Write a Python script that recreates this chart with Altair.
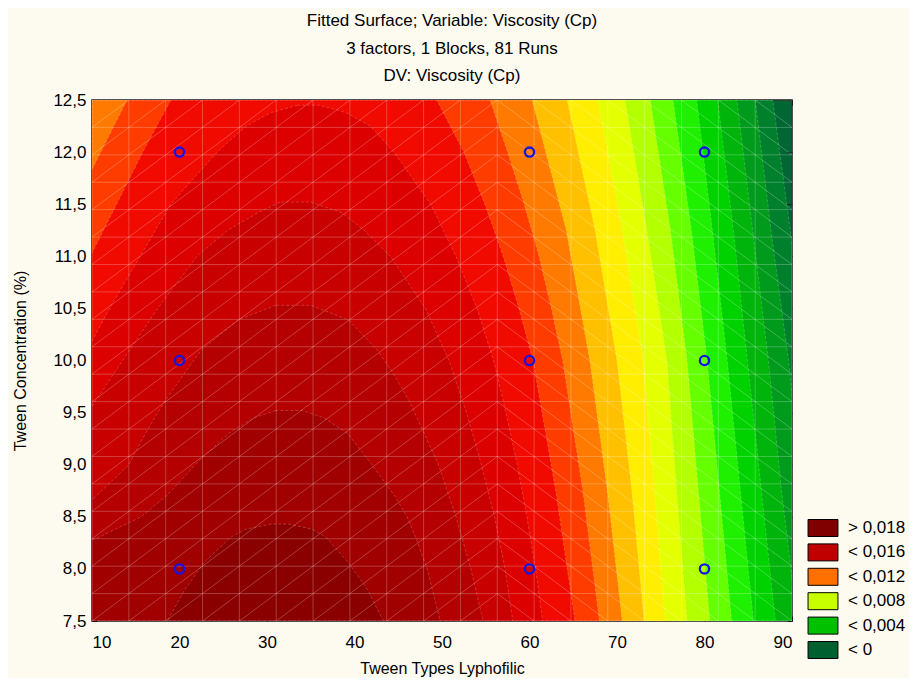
import altair as alt
import pandas as pd

# ---------------- data ----------------
X_MIN, X_MAX = 10, 90
Y_MIN, Y_MAX = 7.5, 12.5
X_TICKS = [10, 20, 30, 40, 50, 60, 70, 80, 90]
Y_TICKS = [7.5, 8.0, 8.5, 9.0, 9.5, 10.0, 10.5, 11.0, 11.5, 12.0, 12.5]

# experimental runs (design points)
RUN_X = [20, 20, 20, 60, 60, 60, 80, 80, 80]
RUN_Y = [8, 10, 12, 8, 10, 12, 8, 10, 12]

# contour levels of the fitted surface (Viscosity, Cp)
ARCH_LEVELS = [0.018, 0.017, 0.016, 0.015, 0.014, 0.013, 0.012]
ARCH_Y = [
    [7.5, 7.8, 8.06, 8.3, 8.38, 8.43],
    [7.5, 8.0, 8.3, 8.5, 8.7, 9.0, 9.3, 9.45, 9.52],
    [7.5, 8.0, 8.5, 9.0, 9.33, 9.62, 9.88, 10.1, 10.39, 10.53],
    [7.5, 8.0, 8.5, 9.0, 9.5, 10.0, 10.5, 11.0, 11.25, 11.42, 11.52],
    [7.5, 8.0, 8.5, 9.0, 9.5, 10.0, 10.5, 11.0, 11.5, 12.0, 12.25, 12.38, 12.45],
    [7.5, 8.75, 10.0, 10.5, 11.0, 11.5, 12.0, 12.5],
    [7.5, 8.75, 10.0, 10.5, 11.0, 11.5, 12.0, 12.5],
]
ARCH_XL = [
    [18.6, 20.6, 22.8, 25.8, 27.5, 30.5],
    [-5.0, 0.0, 10.7, 15.6, 18.5, 21.8, 25.6, 28.5, 31.0],
    [-8.0, -2.0, 8.0, 14.2, 16.3, 18.4, 20.6, 22.5, 26.7, 31.0],
    [-10.0, -6.0, -1.0, 4.5, 9.5, 13.5, 17.5, 22.0, 25.5, 29.0, 31.5],
    [-8.0, -5.0, -2.0, 1.5, 5.0, 8.8, 12.0, 15.5, 19.0, 24.3, 27.6, 30.5, 33.5],
    [-12.0, -6.0, 3.0, 6.5, 9.8, 12.8, 15.8, 19.0],
    [-20.0, -12.0, -2.5, 1.0, 4.5, 8.0, 11.0, 14.0],
]
ARCH_XR = [
    [43.3, 41.5, 39.3, 36.8, 35.2, 32.5],
    [49.8, 48.3, 47.0, 46.0, 44.6, 42.0, 39.2, 36.5, 34.0],
    [54.7, 53.3, 51.6, 49.6, 47.8, 46.2, 44.4, 42.6, 39.3, 35.0],
    [58.1, 57.2, 56.0, 54.5, 52.8, 50.8, 48.1, 44.1, 41.1, 38.5, 35.0],
    [61.5, 60.7, 59.7, 58.6, 57.3, 55.9, 54.0, 51.6, 48.7, 44.5, 41.8, 39.0, 36.0],
    [65.2, 63.0, 60.4, 58.8, 57.0, 54.9, 52.5, 49.4],
    [68.0, 66.1, 63.8, 62.5, 61.1, 59.4, 57.5, 55.5],
]

OPEN_LEVELS = [0.011, 0.010, 0.009, 0.008, 0.007, 0.006, 0.005, 0.004, 0.003, 0.002, 0.001]
OPEN_Y = [7.5, 8.75, 10.0, 11.25, 12.5]
OPEN_XR = [
    [70.6, 68.9, 66.9, 64.2, 60.3],
    [73.1, 71.7, 70.0, 67.5, 64.3],
    [75.5, 74.3, 73.0, 70.6, 67.8],
    [78.0, 76.8, 75.7, 73.4, 70.9],
    [80.6, 79.3, 78.0, 76.1, 73.8],
    [83.1, 81.7, 80.3, 78.5, 76.4],
    [85.6, 84.1, 82.6, 80.9, 79.1],
    [88.1, 86.5, 84.9, 83.3, 81.5],
    [90.6, 88.8, 87.3, 85.5, 83.7],
    [93.1, 91.2, 89.6, 87.6, 85.8],
    [95.6, 93.6, 91.9, 89.8, 87.8],
]

LEGEND_LABELS = ["> 0,018", "< 0,016", "< 0,012", "< 0,008", "< 0,004", "< 0"]

# ---------------- styles ----------------
BAND_FILL = {
    0.001: "#00802c", 0.002: "#009a1c", 0.003: "#00b40c", 0.004: "#00d200",
    0.005: "#1ef000", 0.006: "#66ff00", 0.007: "#b4ff00", 0.008: "#e4ff00",
    0.009: "#ffee00", 0.010: "#ffc000", 0.011: "#ff7a00", 0.012: "#ff3c00",
    0.013: "#f00a00", 0.014: "#dc0000", 0.015: "#c80000", 0.016: "#b40000",
    0.017: "#a00000", 0.018: "#8a0000",
}
BASE_FILL = "#006633"
LEGEND_COLORS = ["#800000", "#c00000", "#ff7000", "#c8ff00", "#00c000", "#006030"]
FONT = "Liberation Sans"
BG = "#fdfaf0"

# ---------------- tables ----------------
rows = []
for lev, ys, xls, xrs in zip(ARCH_LEVELS, ARCH_Y, ARCH_XL, ARCH_XR):
    for y, xl, xr in zip(ys, xls, xrs):
        rows.append({"level": lev, "y": y, "xl": xl, "xr": xr})
for lev, xrs in zip(OPEN_LEVELS, OPEN_XR):
    for y, xr in zip(OPEN_Y, xrs):
        rows.append({"level": lev, "y": y, "xl": X_MIN, "xr": xr})
contours = pd.DataFrame(rows)

# surface mesh (wireframe of the fitted surface)
MESH_N = 19
mx = [X_MIN + (X_MAX - X_MIN) * k / MESH_N for k in range(MESH_N + 1)]
my = [Y_MIN + (Y_MAX - Y_MIN) * k / MESH_N for k in range(MESH_N + 1)]
mesh = []
for v in mx:
    mesh.append({"x": v, "y": Y_MIN, "x2": v, "y2": Y_MAX})
for v in my:
    mesh.append({"x": X_MIN, "y": v, "x2": X_MAX, "y2": v})
for i in range(MESH_N):
    for j in range(MESH_N):
        if i <= 10:
            mesh.append({"x": mx[i], "y": my[j], "x2": mx[i + 1], "y2": my[j + 1]})
        else:
            mesh.append({"x": mx[i], "y": my[j + 1], "x2": mx[i + 1], "y2": my[j]})
mesh = pd.DataFrame(mesh)

runs = pd.DataFrame({"x": RUN_X, "y": RUN_Y})
legend_df = pd.DataFrame({"label": LEGEND_LABELS})

xs = alt.Scale(domain=[X_MIN, X_MAX], nice=False, zero=False)
ys_ = alt.Scale(domain=[Y_MIN, Y_MAX], nice=False, zero=False)

layers = []
for lev in sorted(BAND_FILL.keys()):
    layers.append(
        alt.Chart(contours)
        .transform_filter(alt.FieldEqualPredicate(field="level", equal=lev))
        .mark_area(orient="horizontal", clip=True, color=BAND_FILL[lev],
                   stroke="white", strokeOpacity=0.25, strokeWidth=0.8,
                   strokeDash=[3, 2])
        .encode(
            y=alt.Y("y:Q", scale=ys_, axis=None),
            x=alt.X("xl:Q", scale=xs, axis=None),
            x2="xr:Q",
        )
    )

mesh_layer = alt.Chart(mesh).mark_rule(color="white", opacity=0.3, strokeWidth=0.8, clip=True).encode(
    x=alt.X("x:Q", scale=xs, axis=None),
    y=alt.Y("y:Q", scale=ys_, axis=None),
    x2="x2:Q",
    y2="y2:Q",
)

label_expr = "replace(format(datum.value, '.1f'), '.', ',')"

points = alt.Chart(runs).mark_point(
    shape="circle", size=85, strokeWidth=2.3, color="#1414e6", filled=False, opacity=1
).encode(
    x=alt.X("x:Q", scale=xs, axis=alt.Axis(
        orient="bottom", values=X_TICKS, title="Tween Types Lyphofilic",
        offset=-5, tickSize=5, domain=False, grid=False, labelPadding=13,
        titlePadding=10, format="d")),
    y=alt.Y("y:Q", scale=ys_, axis=alt.Axis(
        orient="left", values=Y_TICKS, title="Tween Concentration (%)",
        offset=-5, tickSize=5, domain=False, grid=False, labelPadding=6,
        titlePadding=24, labelExpr=label_expr)),
)

mirror = alt.Chart(runs).mark_point(size=0, opacity=0).encode(
    x=alt.X("x:Q", scale=xs, axis=alt.Axis(
        orient="top", values=X_TICKS, title=None, labels=False,
        offset=-5, tickSize=5, domain=False, grid=False)),
    y=alt.Y("y:Q", scale=ys_, axis=alt.Axis(
        orient="right", values=Y_TICKS, title=None, labels=False,
        offset=-5, tickSize=5, domain=False, grid=False)),
)

legend_layer = alt.Chart(legend_df).mark_point(filled=True, size=0).encode(
    x=alt.value(0),
    y=alt.value(0),
    color=alt.Color("label:N", sort=LEGEND_LABELS,
                    scale=alt.Scale(domain=LEGEND_LABELS, range=LEGEND_COLORS),
                    legend=alt.Legend(
                        orient="none", legendX=722, legendY=419, title=None,
                        symbolType="M-1.76,-1H1.76V1H-1.76Z", symbolSize=289,
                        symbolStrokeColor="#000000", symbolStrokeWidth=1,
                        symbolOpacity=1, labelFont=FONT, labelFontSize=17,
                        labelColor="#000000", labelOffset=16, rowPadding=2.4,
                        padding=0)),
)

chart = alt.layer(*layers, mesh_layer, points, mirror, legend_layer).resolve_axis(
    x="independent", y="independent"
).properties(
    width=700,
    height=521,
    autosize=alt.AutoSizeParams(type="none"),
    padding={"left": 84, "top": 92, "right": 117, "bottom": 57},
    background=BG,
    title=alt.TitleParams(
        text=["Fitted Surface; Variable: Viscosity (Cp)", "3 factors, 1 Blocks, 81 Runs",
              "DV: Viscosity (Cp)"],
        font=FONT, fontSize=17, fontWeight="normal", color="#000000",
        anchor="middle", frame="group", dx=10, lineHeight=27.5, offset=6),
).configure_view(
    fill=BASE_FILL, stroke="#1a1a1a", strokeWidth=1.5
).configure_axis(
    labelFont=FONT, titleFont=FONT, labelFontSize=17, titleFontSize=16,
    labelColor="#000000", titleColor="#000000", tickColor="#1a1a1a",
    titleFontWeight="normal", tickWidth=1
)

chart.save("out.html", embed_options={"renderer": "svg", "actions": False})
